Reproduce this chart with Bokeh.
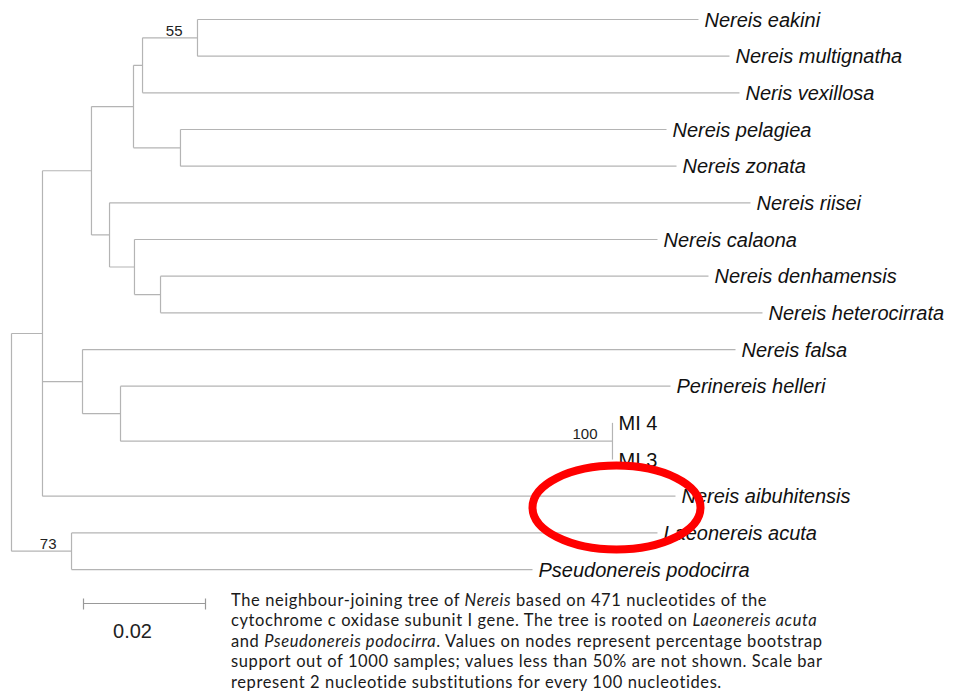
from bokeh.plotting import figure
from bokeh.models import Range1d, Div, ColumnDataSource
from bokeh.layouts import column, row
from bokeh.core.properties import value
from bokeh.embed import file_html
from bokeh.resources import INLINE

# Neighbour-joining tree (COI, 471 nt): each node with its parent and branch
# length (substitutions per site). Leaves are listed in drawing order.
node_ids = [
    "I", "M", "E", "J", "aib", "D", "F", "B", "C", "A", "vex", "eak", "mul",
    "pel", "zon", "rii", "G", "cal", "H", "den", "het", "fal", "K", "hel",
    "L", "MI4", "MI3", "lae", "pse",
]
node_parent = [
    "R", "R", "I", "I", "I", "E", "E", "D", "D", "B", "B", "A", "A",
    "C", "C", "F", "F", "G", "G", "H", "H", "J", "J", "K",
    "K", "L", "L", "M", "M",
]
branch_length = [
    0.00508, 0.00984, 0.00803, 0.00656, 0.10377, 0.00689, 0.00296, 0.00148,
    0.00770, 0.00901, 0.09786, 0.08213, 0.08721, 0.07968, 0.08132, 0.10508,
    0.00409, 0.08574, 0.00427, 0.08983, 0.09868, 0.10705, 0.00623, 0.09016,
    0.08065, 0.0, 0.0, 0.09606, 0.07557,
]

leaf_order = ["eak", "mul", "vex", "pel", "zon", "rii", "cal", "den", "het",
              "fal", "hel", "MI4", "MI3", "aib", "lae", "pse"]
leaf_labels = ["Nereis eakini", "Nereis multignatha", "Neris vexillosa",
               "Nereis pelagiea", "Nereis zonata", "Nereis riisei",
               "Nereis calaona", "Nereis denhamensis", "Nereis heterocirrata",
               "Nereis falsa", "Perinereis helleri", "MI 4", "MI 3",
               "Nereis aibuhitensis", "Laeonereis acuta",
               "Pseudonereis podocirra"]
leaf_italic = [True] * 11 + [False, False] + [True] * 3

# bootstrap support (%) shown on nodes; values below 50 are omitted
bootstrap_nodes = ["A", "L", "M"]
bootstrap_values = [55, 100, 73]

scale_bar_length = 0.02

# ---- tree geometry -------------------------------------------------------
parent_of = dict(zip(node_ids, node_parent))
blen = dict(zip(node_ids, branch_length))
children = {}
for n, par in zip(node_ids, node_parent):
    children.setdefault(par, []).append(n)

depth = {"R": 0.0}
def node_depth(n):
    if n not in depth:
        depth[n] = node_depth(parent_of[n]) + blen[n]
    return depth[n]
for n in node_ids:
    node_depth(n)

ypos = {n: i for i, n in enumerate(leaf_order)}
def node_y(n):
    if n not in ypos:
        ys = [node_y(c) for c in children[n]]
        ypos[n] = (min(ys) + max(ys)) / 2
    return ypos[n]
node_y("R")

hx0, hx1, hy = [], [], []
for n in node_ids:
    hx0.append(depth[parent_of[n]])
    hx1.append(depth[n])
    hy.append(ypos[n])

vx, vy0, vy1 = [], [], []
for n, kids in children.items():
    ys = [ypos[c] for c in kids]
    vx.append(depth[n])
    vy0.append(min(ys))
    vy1.append(max(ys))

# ---- figure --------------------------------------------------------------
PX = 6100.0          # pixels per substitution/site
X0 = -11.0 / PX      # left edge
ROW = 36.67          # pixels per leaf row
W, H = 955, 590

p = figure(width=W, height=H, output_backend="svg", toolbar_location=None,
           x_range=Range1d(X0, X0 + W / PX),
           y_range=Range1d((H - 19) / ROW, -19 / ROW),
           min_border=0)
p.axis.visible = False
p.grid.visible = False
p.outline_line_color = None
p.background_fill_color = "white"
p.border_fill_color = "white"

line_col = "#b4b4b4"
p.segment(x0=hx0, y0=hy, x1=hx1, y1=hy, line_color=line_col, line_width=1.2)
p.segment(x0=vx, y0=vy0, x1=vx, y1=vy1, line_color=line_col, line_width=1.2)

ital = [i for i, f in enumerate(leaf_italic) if f]
roman = [i for i, f in enumerate(leaf_italic) if not f]
for idx, style in ((ital, "italic"), (roman, "normal")):
    src = ColumnDataSource(dict(
        x=[depth[leaf_order[i]] for i in idx],
        y=[ypos[leaf_order[i]] for i in idx],
        t=[leaf_labels[i] for i in idx]))
    p.text(x="x", y="y", text="t", source=src, x_offset=6,
           text_font=value("Liberation Sans"), text_font_size="20px",
           text_font_style=style, text_baseline="middle",
           text_color="#111111")

p.text(x=[depth[n] for n in bootstrap_nodes],
       y=[ypos[n] for n in bootstrap_nodes],
       text=[str(v) for v in bootstrap_values],
       x_offset=-15, y_offset=-2,
       text_font=value("Liberation Sans"), text_font_size="15px",
       text_align="right", text_baseline="bottom", text_color="#222222")

# red highlight ring
p.ellipse(x=(616 - 11) / PX, y=(507 - 19) / ROW, width=168, height=84,
          width_units="screen", height_units="screen",
          fill_color=None, line_color="#ff0000", line_width=8)

# ---- scale bar -----------------------------------------------------------
SW, SH = 231, 102
sb = figure(width=SW, height=SH, output_backend="svg", toolbar_location=None,
            x_range=Range1d(X0, X0 + SW / PX), y_range=Range1d(SH, 0),
            min_border=0)
sb.axis.visible = False
sb.grid.visible = False
sb.outline_line_color = None

bar_start = (83 - 11) / PX
bar_end = bar_start + scale_bar_length
sb.segment(x0=[bar_start], y0=[13], x1=[bar_end], y1=[13],
           line_color="#999999", line_width=1.2)
sb.segment(x0=[bar_start, bar_end], y0=[8, 8], x1=[bar_start, bar_end],
           y1=[19, 19], line_color="#999999", line_width=1.2)
sb.text(x=[(bar_start + bar_end) / 2], y=[40],
        text=[f"{scale_bar_length:g}"], x_offset=-12,
        text_font=value("Liberation Sans"), text_font_size="20px",
        text_align="center", text_baseline="alphabetic", text_color="#222222")

caption = (
    "The neighbour-joining tree of <i>Nereis</i> based on 471 nucleotides of the<br>"
    "cytochrome c oxidase subunit I gene. The tree is rooted on <i>Laeonereis acuta</i><br>"
    "and <i>Pseudonereis podocirra</i>. Values on nodes represent percentage bootstrap<br>"
    "support out of 1000 samples; values less than 50% are not shown. Scale bar<br>"
    "represent 2 nucleotide substitutions for every 100 nucleotides."
)
div = Div(text=caption, width=W - SW, height=SH, margin=(0, 0, 0, 0),
          styles={"font-family": "Lato, sans-serif", "font-size": "16.5px",
                  "letter-spacing": "0.6px",
                  "line-height": "20.4px", "color": "#1a1a1a",
                  "white-space": "nowrap", "padding-top": "0px",
                  "overflow": "hidden"})

layout = column(p, row(sb, div, spacing=0), spacing=0)

open("out.html", "w").write(file_html(layout, INLINE))
